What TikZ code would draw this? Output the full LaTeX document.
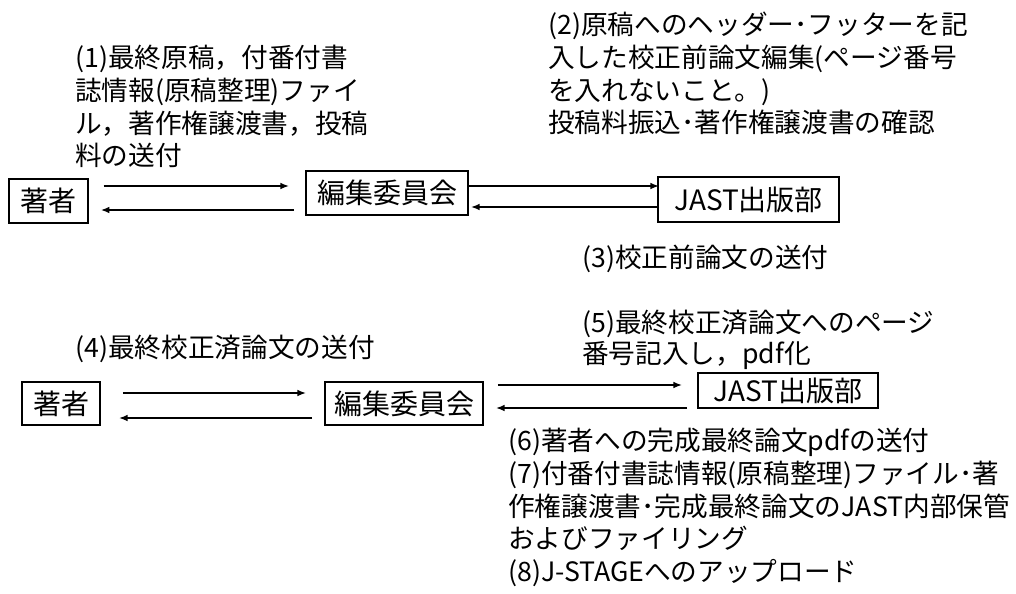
\documentclass[tikz,border=0pt]{standalone}
\usepackage{fontspec}
\setmainfont{Noto Sans CJK JP}
\usepackage{tikz}
\usetikzlibrary{calc,arrows.meta}

\begin{document}
\begin{tikzpicture}[x=0.75pt,y=-0.75pt,
        box/.style={draw, line width=1.3pt, inner sep=0pt, font=\fontsize{21}{24}\selectfont},
        flow/.style={line width=1.3pt, -{Latex[length=6.5pt,width=5pt]}},
        note/.style={anchor=north west, inner sep=0pt, align=left, font=\fontsize{20}{24.5}\selectfont}]
        \useasboundingbox (0,0) rectangle (1016,593);
        % upper row
        \node[box, minimum width=59pt, minimum height=33pt] (au1) at (48.5,201) {著者};
        \node[box, minimum width=121.5pt, minimum height=33pt] (ed1) at (387,193) {編集委員会};
        \node[box, minimum width=135.75pt, minimum height=33.75pt] (ja1) at (748.5,199.5) {JAST出版部};
        \draw[flow] ($(au1.east)+(15,-15)$) -- ($(ed1.west)+(-16,-7)$);
        \draw[flow] ($(ed1.west)+(-11,17)$) -- ($(au1.east)+(12,9)$);
        \draw[flow] ($(ed1.east)+(0,-7)$) -- ($(ja1.west)+(2,-13.5)$);
        \draw[flow] ($(ja1.west)+(2,7.5)$) -- ($(ed1.east)+(2,14)$);
        \node[note] (t1) at (75,45) {(1)最終原稿，付番付書\\誌情報(原稿整理)ファイ\\ル，著作権譲渡書，投稿\\料の送付};
        \node[note] (t2) at (548,12) {(2)原稿へのヘッダー･フッターを記\\入した校正前論文編集(ページ番号\\を入れないこと。)\\投稿料振込･著作権譲渡書の確認};
        \node[note] (t3) at (582,245) {(3)校正前論文の送付};
        % lower row
        \node[box, minimum width=58.5pt, minimum height=32.25pt] (au2) at (61,403.5) {著者};
        \node[box, minimum width=118.5pt, minimum height=32.25pt] (ed2) at (404,403.5) {編集委員会};
        \node[box, minimum width=135pt, minimum height=26.25pt] (ja2) at (788,390.5) {JAST出版部};
        \draw[flow] ($(au2.east)+(22,-10.5)$) -- ($(ed2.west)+(-18,-10.5)$);
        \draw[flow] ($(ed2.west)+(-12,14.5)$) -- ($(au2.east)+(18,14.5)$);
        \draw[flow] ($(ed2.east)+(14,-18.5)$) -- ($(ja2.west)+(-15,-5.5)$);
        \draw[flow] ($(ja2.west)+(-10,17.5)$) -- ($(ed2.east)+(12,4.5)$);
        \node[note] (t4) at (75,335) {(4)最終校正済論文の送付};
        \node[note, font=\fontsize{20}{23}\selectfont] (t5) at (582,310) {(5)最終校正済論文へのページ\\番号記入し，pdf化};
        \node[note] (t6) at (508,428) {(6)著者への完成最終論文pdfの送付\\(7)付番付書誌情報(原稿整理)ファイル･著\\作権譲渡書･完成最終論文のJAST内部保管\\およびファイリング\\(8)J-STAGEへのアップロード};
\end{tikzpicture}
\end{document}
